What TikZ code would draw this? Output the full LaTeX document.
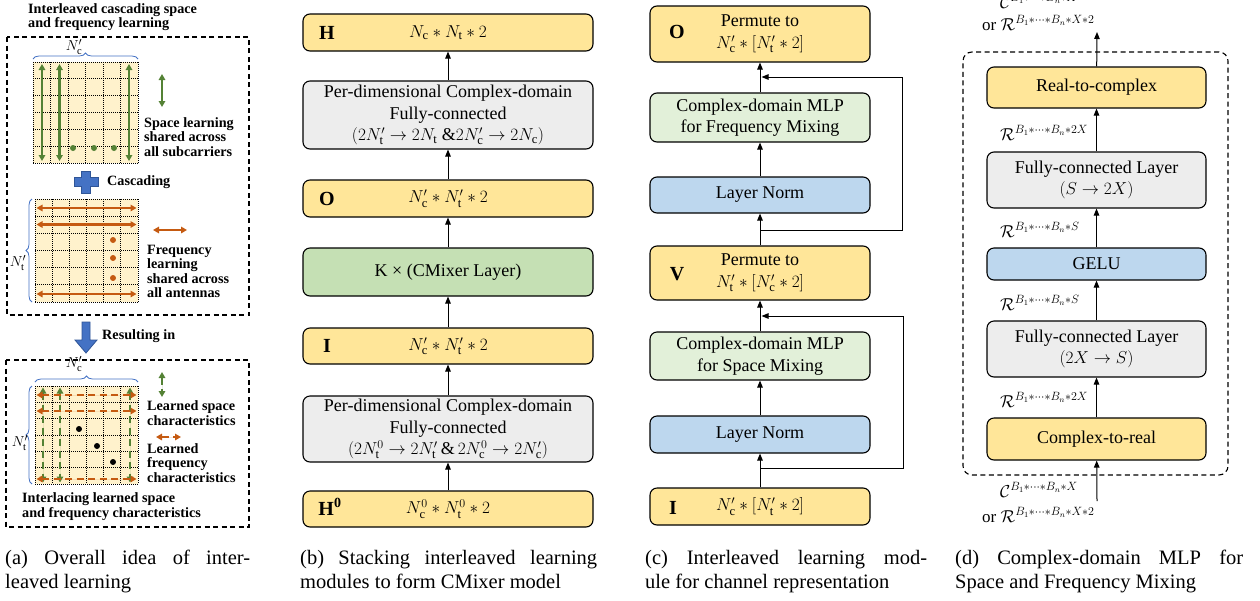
\documentclass[tikz,border=0pt]{standalone}
\usepackage{fontspec}
\setmainfont{Liberation Serif}
\usetikzlibrary{arrows.meta,decorations.pathreplacing,calc}
\definecolor{yellowbox}{HTML}{FFE699}
\definecolor{graybox}{HTML}{EDEDED}
\definecolor{greenbox}{HTML}{C5E0B4}
\definecolor{lgreenbox}{HTML}{E2F0D9}
\definecolor{bluebox}{HTML}{BDD7EE}
\definecolor{gridfill}{HTML}{FFF2CC}
\definecolor{arrowgreen}{HTML}{548235}
\definecolor{arroworange}{HTML}{C55A11}
\definecolor{braceblue}{HTML}{4472C4}
\definecolor{plusdark}{HTML}{2F5597}
\newcommand\boxfont{\fontsize{18}{21.5}\selectfont}
\newcommand\labfont{\fontsize{20}{22}\selectfont\bfseries}
\newcommand\afont{\fontsize{14.2}{14.5}\selectfont\bfseries}
\newcommand\mfont{\fontsize{17}{20}\selectfont}
\newcommand\capfont{\fontsize{20.5}{24}\selectfont}
\newcommand\cellgrid[4]{%
  \fill[gridfill] (#1,#2) rectangle (#3,#4);
  \foreach \i in {0,...,6}{%
    \draw[gridline] ({#1+\i*(#3-#1)/6},#2) -- ({#1+\i*(#3-#1)/6},#4);
    \draw[gridline] (#1,{#2+\i*(#4-#2)/6}) -- (#3,{#2+\i*(#4-#2)/6});
  }%
}
\tikzset{
  arr/.style={-{Triangle[length=7pt,width=5.5pt]}, line width=1pt},
  boxbase/.style={draw, line width=1.1pt, rounded corners=7pt, align=center, font=\boxfont, inner sep=0pt},
  bbox/.style={boxbase, minimum width=290pt},
  cbox/.style={boxbase, minimum width=220pt},
  dbox/.style={boxbase, minimum width=219pt},
  yel/.style={fill=yellowbox},
  gry/.style={fill=graybox},
  grn/.style={fill=greenbox},
  lgrn/.style={fill=lgreenbox},
  blu/.style={fill=bluebox},
  lab/.style={font=\labfont, inner sep=0pt},
  atext/.style={font=\afont, align=left, anchor=west, inner sep=0pt},
  mlab/.style={font=\mfont, anchor=west, inner sep=0pt},
  nlab/.style={font=\fontsize{15}{16}\selectfont, inner sep=0pt},
  capt/.style={font=\capfont, anchor=base west, inner sep=0pt},
  gridline/.style={line width=0.8pt, dash pattern=on 1pt off 1pt, black},
  garr/.style={{Triangle[length=6pt,width=6.5pt]}-{Triangle[length=6pt,width=6.5pt]}, line width=2.1pt, draw=arrowgreen, fill=arrowgreen},
  oarr/.style={{Triangle[length=6pt,width=6.5pt]}-{Triangle[length=6pt,width=6.5pt]}, line width=2.1pt, draw=arroworange, fill=arroworange},
  dsh/.style={dash pattern=on 7pt off 4.5pt},
  bracestyle/.style={decorate, decoration={brace, amplitude=6pt}, draw=braceblue, line width=0.8pt},
  frame/.style={draw, line width=1.1pt, dash pattern=on 5pt off 3.5pt},
}
\begin{document}
\begin{tikzpicture}[x=1pt,y=-1pt]
\useasboundingbox (0,0) rectangle (1260,600);

%%%%%%%%%%%%%%%% Panel (a)
\node[atext] (atitle) at (28,17) {Interleaved cascading space\\and frequency learning};
\draw[frame] (7,37) rectangle (249,315);
% grid 1
\cellgrid{33}{62}{138}{163}
\draw[bracestyle] (33,59) -- (138,59);
\node[nlab] (anc1) at (74,47) {$N'_\mathrm{c}$};
\foreach \x in {42,59.5,129} \draw[garr] (\x,64) -- (\x,161);
\foreach \x in {73,94,114} \fill[arrowgreen] (\x,148) circle (3);
\draw[garr] (162,74) -- (162,107);
\node[atext] (aspace) at (144,137) {Space learning\\shared across\\all subcarriers};
% plus
\fill[braceblue, draw=plusdark, line width=0.8pt] (81.5,171) -- (90.5,171) -- (90.5,177.5) -- (98,177.5) -- (98,186.5) -- (90.5,186.5) -- (90.5,193) -- (81.5,193) -- (81.5,186.5) -- (74,186.5) -- (74,177.5) -- (81.5,177.5) -- cycle;
\node[atext] (acasc) at (107,182) {Cascading};
% grid 2
\cellgrid{35}{199}{138}{302}
\draw[bracestyle] (32,302) -- (32,199);
\node[nlab] (ant1) at (18,263) {$N'_\mathrm{t}$};
\foreach \y in {208,224.5,294} \draw[oarr] (36.5,\y) -- (136.5,\y);
\foreach \y in {240,258,278} \fill[arroworange] (113,\y) circle (3);
\draw[oarr] (153,230) -- (187,230);
\node[atext] (afreq) at (147,271.5) {Frequency\\learning\\shared across\\all antennas};
% block arrow
\fill[braceblue, draw=plusdark, line width=0.8pt] (82,322) -- (90,322) -- (90,340) -- (97,340) -- (86,353) -- (75,340) -- (82,340) -- cycle;
\node[atext] (aresult) at (102,336) {Resulting in};
% grid 3
\draw[frame] (6,360) rectangle (249,527);
\cellgrid{35}{386}{138}{484}
\draw[bracestyle] (35,382) -- (138,382);
\node[nlab] (anc2) at (74,364) {$N'_\mathrm{c}$};
\draw[bracestyle] (32,484) -- (32,386);
\node[nlab] (ant2) at (20,443) {$N'_\mathrm{t}$};
\foreach \x in {43,60,130} \draw[garr,dsh,line width=1.8pt] (\x,387.5) -- (\x,482.5);
\foreach \y in {395,411,479} \draw[oarr,dsh,line width=1.8pt] (36.5,\y) -- (136.5,\y);
\fill[black] (79,429) circle (3);
\fill[black] (97,446) circle (3);
\fill[black] (113,462) circle (3);
\draw[garr,dsh,line width=1.5pt] (162,372) -- (162,397);
\draw[oarr,dsh,line width=1.5pt] (156,437) -- (181,437);
\node[atext] (alsp) at (147,413) {Learned space\\characteristics};
\node[atext] (alfr) at (147,463) {Learned\\frequency\\characteristics};
\node[atext] (ainter) at (22,506.5) {Interlacing learned space\\and frequency characteristics};

%%%%%%%%%%%%%%%% Panel (b)
\node[bbox,yel,minimum height=37pt] (bH) at (448,32.5) {$N_\mathrm{c}\ast N_\mathrm{t}\ast 2$};
\node[lab] (bHl) at (327,32.5) {H};
\node[bbox,gry,minimum height=68pt] (bF1) at (448,115) {Per-dimensional Complex-domain\\Fully-connected\\$(2N'_\mathrm{t}\rightarrow 2N_\mathrm{t}$ \&$2N'_\mathrm{c}\rightarrow 2N_\mathrm{c})$};
\node[bbox,yel,minimum height=37pt] (bO) at (448,198.5) {$N'_\mathrm{c}\ast N'_\mathrm{t}\ast 2$};
\node[lab] (bOl) at (327,198.5) {O};
\node[bbox,grn,minimum height=48pt] (bK) at (448,272) {K × (CMixer Layer)};
\node[bbox,yel,minimum height=36pt] (bI) at (448,346) {$N'_\mathrm{c}\ast N'_\mathrm{t}\ast 2$};
\node[lab] (bIl) at (327,346) {I};
\node[bbox,gry,minimum height=66pt] (bF2) at (448,429) {Per-dimensional Complex-domain\\Fully-connected\\$(2N^0_\mathrm{t}\rightarrow 2N'_\mathrm{t}$\,\&\,$2N^0_\mathrm{c}\rightarrow 2N'_\mathrm{c})$};
\node[bbox,yel,minimum height=36pt] (bH0) at (448,509) {$N^0_\mathrm{c}\ast N^0_\mathrm{t}\ast 2$};
\node[lab] (bH0l) at (330,507) {H$^{\mathbf{0}}$};
\draw[arr] (bH0) -- (bF2);
\draw[arr] (bF2) -- (bI);
\draw[arr] (bI) -- (bK);
\draw[arr] (bK) -- (bO);
\draw[arr] (bO) -- (bF1);
\draw[arr] (bF1) -- (bH);

%%%%%%%%%%%%%%%% Panel (c)
\node[cbox,yel,minimum height=56pt] (cO) at (760,34) {Permute to\\$N'_\mathrm{c}\ast[N'_\mathrm{t}\ast 2]$};
\node[lab] (cOl) at (677,32) {O};
\node[cbox,lgrn,minimum height=49pt] (cMf) at (760,117.5) {Complex-domain MLP\\for Frequency Mixing};
\node[cbox,blu,minimum height=36pt] (cL1) at (760,195) {Layer Norm};
\node[cbox,yel,minimum height=54pt] (cV) at (760,273) {Permute to\\$N'_\mathrm{t}\ast[N'_\mathrm{c}\ast 2]$};
\node[lab] (cVl) at (677,274) {V};
\node[cbox,lgrn,minimum height=48pt] (cMs) at (760,356) {Complex-domain MLP\\for Space Mixing};
\node[cbox,blu,minimum height=37pt] (cL2) at (760,434.5) {Layer Norm};
\node[cbox,yel,minimum height=37pt] (cI) at (760,506.5) {$N'_\mathrm{c}\ast[N'_\mathrm{t}\ast 2]$};
\node[lab] (cIl) at (673,508) {I};
\draw[arr] (cI) -- (cL2);
\draw[arr] (cL2) -- (cMs);
\draw[arr] (cMs) -- (cV);
\draw[arr] (cV) -- (cL1);
\draw[arr] (cL1) -- (cMf);
\draw[arr] (cMf) -- (cO);
\coordinate (cs1) at (760,468);
\coordinate (ct1) at (761.5,316);
\coordinate (cs2) at (760,230);
\coordinate (ct2) at (761.5,77);
\draw[arr] (cs1) -- (903,468) -- (903,316) -- (ct1);
\draw[arr] (cs2) -- (902,230) -- (902,77) -- (ct2);

%%%%%%%%%%%%%%%% Panel (d)
\node[frame, rounded corners=9pt, minimum width=265pt, minimum height=423pt, inner sep=0pt] (dfr) at (1095.5,263.5) {};
\node[dbox,yel,minimum height=41pt] (dRC) at (1096.5,87.5) {Real-to-complex};
\node[dbox,gry,minimum height=56pt] (dF1) at (1096.5,180) {Fully-connected Layer\\$(S\rightarrow 2X)$};
\node[dbox,blu,minimum height=32pt] (dG) at (1096.5,264) {GELU};
\node[dbox,gry,minimum height=56pt] (dF2) at (1096.5,349) {Fully-connected Layer\\$(2X\rightarrow S)$};
\node[dbox,yel,minimum height=42pt] (dCR) at (1096.5,439) {Complex-to-real};
\coordinate (din) at (1097,501);
\coordinate (dout) at (1097,32);
\draw[arr] (din) -- (dCR);
\draw[arr] (dCR) -- (dF2);
\draw[arr] (dF2) -- (dG);
\draw[arr] (dG) -- (dF1);
\draw[arr] (dF1) -- (dRC);
\draw[arr] (dRC) -- (dout);
\node[mlab] (dl1) at (1000,133) {$\mathcal{R}^{B_1\ast\cdots\ast B_n\ast 2X}$};
\node[mlab] (dl2) at (1000,230) {$\mathcal{R}^{B_1\ast\cdots\ast B_n\ast S}$};
\node[mlab] (dl3) at (1000,303) {$\mathcal{R}^{B_1\ast\cdots\ast B_n\ast S}$};
\node[mlab] (dl4) at (1000,400) {$\mathcal{R}^{B_1\ast\cdots\ast B_n\ast 2X}$};
\node[mlab] (dl5) at (1000,490) {$\mathcal{C}^{B_1\ast\cdots\ast B_n\ast X}$};
\node[mlab] (dl6) at (982,515) {or $\mathcal{R}^{B_1\ast\cdots\ast B_n\ast X\ast 2}$};
\node[mlab] (dl7) at (1000,1) {$\mathcal{C}^{B_1\ast\cdots\ast B_n\ast X}$};
\node[mlab] (dl8) at (982,23) {or $\mathcal{R}^{B_1\ast\cdots\ast B_n\ast X\ast 2}$};

%%%%%%%%%%%%%%%% Captions
\node[capt] (capa) at (5,564) {\parbox[t]{245pt}{(a) Overall idea of inter-\linebreak leaved learning}};
\node[capt] (capb) at (300,564) {\parbox[t]{297pt}{(b) Stacking interleaved learning\linebreak modules to form CMixer model}};
\node[capt] (capc) at (645,564) {\parbox[t]{282pt}{(c) Interleaved learning mod-\linebreak ule for channel representation}};
\node[capt] (capd) at (955,564) {\parbox[t]{288pt}{(d) Complex-domain MLP for\linebreak Space and Frequency Mixing}};
\end{tikzpicture}
\end{document}
